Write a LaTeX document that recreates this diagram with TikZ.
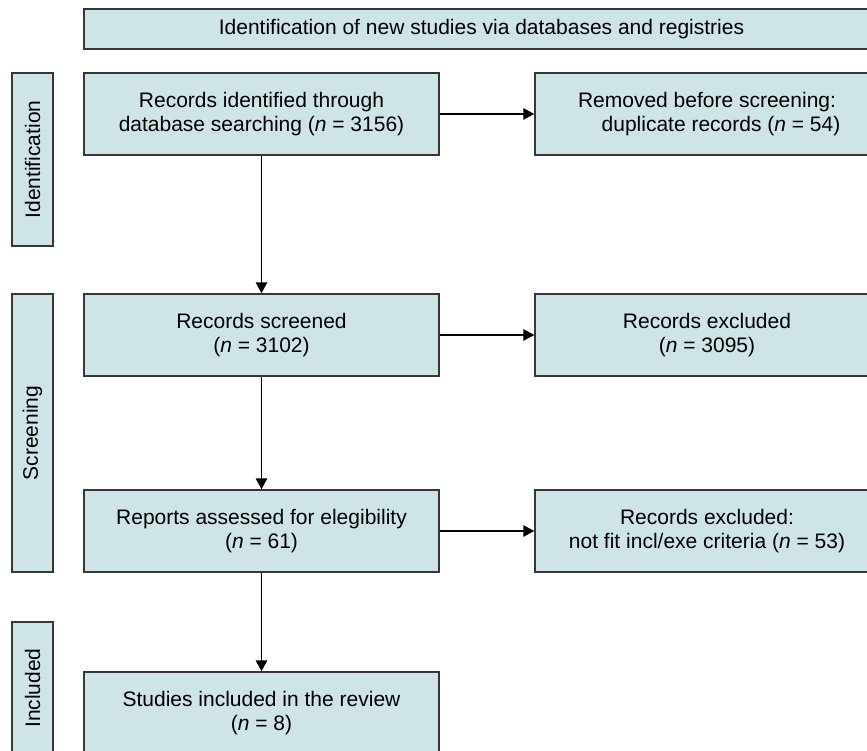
\documentclass[tikz,border=0pt]{standalone}
\usepackage{fontspec}
\setmainfont{Liberation Sans}
\usetikzlibrary{arrows.meta}
\definecolor{boxfill}{RGB}{206,228,230}
\definecolor{boxline}{RGB}{55,55,55}
\begin{document}
\begin{tikzpicture}[x=1pt,y=-1pt,
  box/.style={draw=boxline, fill=boxfill, line width=1.5pt, rectangle, inner sep=0pt,
    align=center, font=\fontsize{21}{24}\selectfont},
  phase/.style={box, rotate=90},
  arr/.style={draw=black, line width=1.5pt, -{Triangle[length=11pt,width=11.5pt]}}]
\useasboundingbox (0,0) rectangle (867,750);
\clip (0,0) rectangle (867,750);
% header
\node[box, minimum width=795pt, minimum height=40pt] (top) at (481.5,29)
  {Identification of new studies via databases and registries};
% phase labels
\node[phase, minimum width=173pt, minimum height=41pt] (pid) at (32.5,159.5) {Identification};
\node[phase, minimum width=278pt, minimum height=41pt] (pscr) at (32.5,433) {Screening};
\node[phase, minimum width=132pt, minimum height=41pt] (pinc) at (32.5,688) {Included};
% left column
\node[box, minimum width=355pt, minimum height=82pt] (ident) at (261.5,114)
  {Records identified through\\database searching (\textit{n} = 3156)};
\node[box, minimum width=355pt, minimum height=82pt] (scr) at (261.5,335)
  {Records screened\\(\textit{n} = 3102)};
\node[box, minimum width=355pt, minimum height=82pt] (rep) at (261.5,531)
  {Reports assessed for elegibility\\(\textit{n} = 61)};
\node[box, minimum width=355pt, minimum height=82pt] (inc) at (261.5,713)
  {Studies included in the review\\(\textit{n} = 8)};
% right column
\node[box, minimum width=344pt, minimum height=82pt] (rem) at (707,114)
  {Removed before screening:\\\hspace*{28pt}duplicate records (\textit{n} = 54)};
\node[box, minimum width=344pt, minimum height=82pt] (exc) at (707,335)
  {Records excluded\\(\textit{n} = 3095)};
\node[box, minimum width=344pt, minimum height=82pt] (nfit) at (707,531)
  {Records excluded:\\not fit incl/exe criteria (\textit{n} = 53)};
% connectors
\draw[arr] (ident.south) -- (scr.north);
\draw[arr] (scr.south) -- (rep.north);
\draw[arr] (rep.south) -- (inc.north);
\draw[arr] (ident.east) -- (rem.west);
\draw[arr] (scr.east) -- (exc.west);
\draw[arr] (rep.east) -- (nfit.west);
\end{tikzpicture}
\end{document}
